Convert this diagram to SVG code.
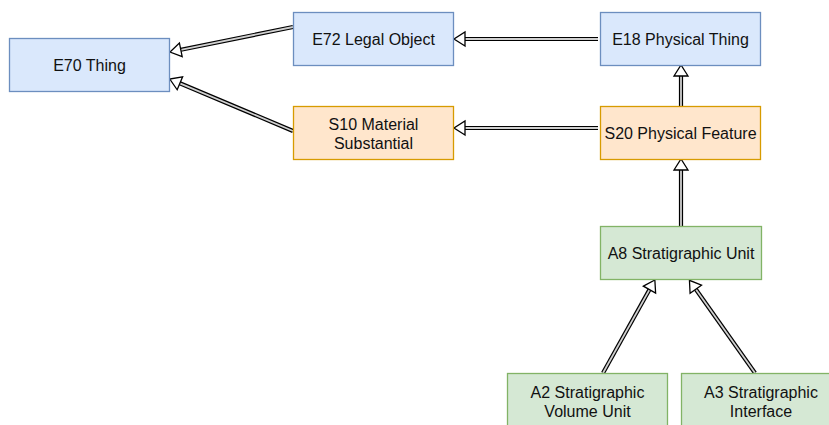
<svg xmlns="http://www.w3.org/2000/svg" width="829" height="425" viewBox="0 0 829 425">
<defs>
<style>
.n rect{stroke-width:1.3}
.blue rect{fill:#dae8fc;stroke:#6c8ebf}
.orange rect{fill:#ffe6cc;stroke:#d79b00}
.green rect{fill:#d5e8d4;stroke:#82b366}
text{font-family:"Liberation Sans",Arial,Helvetica,sans-serif;font-size:16px;fill:#111;text-anchor:middle}
.o{fill:none;stroke:#000;stroke-width:4.2}
.i{fill:none;stroke:#d0d0d0;stroke-width:1.8;marker-end:url(#tri)}
</style>
<marker id="tri" markerUnits="userSpaceOnUse" markerWidth="14" markerHeight="16" viewBox="-1 -8 13 16" refX="0" refY="0" orient="auto" overflow="visible">
<path d="M0,-7 L11,0 L0,7 Z" fill="#fff" stroke="#000" stroke-width="1.3" stroke-linejoin="miter"/>
</marker>
</defs>
<rect width="829" height="425" fill="#fff"/>
<g id="connectors">
<path class="o" d="M293,27 L180.8,49.8"/><path class="i" d="M293,27 L180.8,49.8"/>
<path class="o" d="M293,131 L179.9,83.3"/><path class="i" d="M293,131 L179.9,83.3"/>
<path class="o" d="M598,39 L465,39"/><path class="i" d="M598,39 L465,39"/>
<path class="o" d="M598,128 L465,128"/><path class="i" d="M598,128 L465,128"/>
<path class="o" d="M681,106 L681,76"/><path class="i" d="M681,106 L681,76"/>
<path class="o" d="M681,226 L681,170"/><path class="i" d="M681,226 L681,170"/>
<path class="o" d="M603,373 L649.5,289.6"/><path class="i" d="M603,373 L649.5,289.6"/>
<path class="o" d="M755,373 L695.8,289.3"/><path class="i" d="M755,373 L695.8,289.3"/>
</g>
<g id="e70" class="n blue"><rect x="9.5" y="38.5" width="160" height="53"/><text x="89.5" y="70.5">E70 Thing</text></g>
<g id="e72" class="n blue"><rect x="293.5" y="12.5" width="160" height="53"/><text x="373.5" y="44.5">E72 Legal Object</text></g>
<g id="e18" class="n blue"><rect x="600.5" y="12.5" width="160" height="53"/><text x="680.5" y="44.5">E18 Physical Thing</text></g>
<g id="s10" class="n orange"><rect x="293.5" y="106.5" width="160" height="53"/><text x="373.5" y="129.5">S10 Material</text><text x="373.5" y="148.5">Substantial</text></g>
<g id="s20" class="n orange"><rect x="600.5" y="106.5" width="160" height="53"/><text x="680.5" y="138.5">S20 Physical Feature</text></g>
<g id="a8" class="n green"><rect x="600.5" y="226.5" width="161" height="53"/><text x="681" y="258.5">A8 Stratigraphic Unit</text></g>
<g id="a2" class="n green"><rect x="507.5" y="373.5" width="160" height="54"/><text x="587.5" y="397.5">A2 Stratigraphic</text><text x="587.5" y="416.5">Volume Unit</text></g>
<g id="a3" class="n green"><rect x="681.5" y="373.5" width="160" height="54"/><text x="761" y="397.5">A3 Stratigraphic</text><text x="761" y="416.5">Interface</text></g>
</svg>
